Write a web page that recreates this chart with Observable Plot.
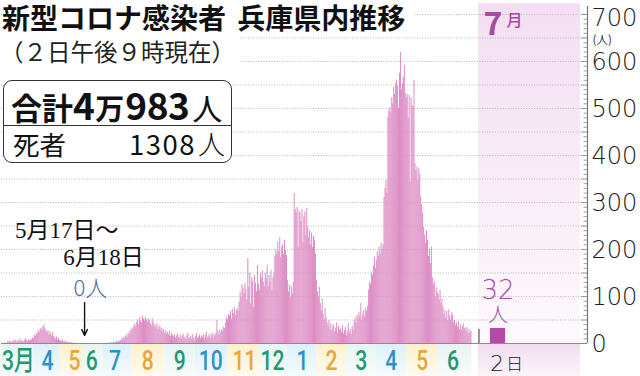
<!DOCTYPE html>
<html><head><meta charset="utf-8">
<script src="https://cdn.jsdelivr.net/npm/d3@7"></script>
<script src="https://cdn.jsdelivr.net/npm/@observablehq/plot@0.6"></script>
<style>
body{margin:0;background:#fff;}
#wrap{position:relative;width:640px;height:376px;overflow:hidden;background:#fff;font-family:"Noto Sans CJK JP",sans-serif;}
#chart svg{display:block}
.ov{position:absolute;background:#fff;white-space:nowrap;color:#111;}
#title{left:2px;top:1px;font-size:28px;font-weight:700;line-height:32px;padding-right:8px;word-spacing:5px;}
#sub{left:0px;top:36px;font-size:23.5px;line-height:30px;color:#222;padding-right:4px;}
#box{left:3px;top:80px;width:227px;height:81px;border:1.6px solid #333;border-radius:9px;overflow:hidden;}
#r1{position:absolute;left:0;top:0;width:100%;height:44px;border-bottom:1.6px solid #333;}
#r2{position:absolute;left:0;top:45px;width:100%;height:36px;}
.row{position:absolute;left:7px;display:flex;align-items:baseline;white-space:nowrap;}
.row span{line-height:1;}
#r1 .row{top:5px;font-weight:700;}
#r1 .k{font-size:31px;}
#r1 .d{font-size:37px;letter-spacing:-0.5px;}
#r1 .m{font-size:29px;margin:0 1px;}
#r1 .u{font-size:30px;font-weight:400;margin-left:3px;}
#r2 .row{top:4px;left:9px;width:212px;}
#r2 .k{font-size:26.5px;}
#r2 .n{font-size:27.5px;letter-spacing:1.5px;margin-left:auto;}
#r2 .u{font-size:27px;font-weight:300;margin-left:2px;}
</style></head>
<body>
<div id="wrap">
  <div id="chart"></div>
  <div class="ov" id="title"></div>
  <div class="ov" id="sub"></div>
  <div class="ov" id="box">
    <div id="r1"><div class="row"><span class="k"></span><span class="d" id="t1"></span><span class="m" id="t2"></span><span class="d" id="t3"></span><span class="u">人</span></div></div>
    <div id="r2"><div class="row"><span class="k"></span><span class="n"></span><span class="u">人</span></div></div>
  </div>
</div>
<script>
// ---------- text ----------
const titleText = "新型コロナ感染者 兵庫県内推移";
const subtitleText = "（２日午後９時現在）";
const totalLabel = "合計", totalParts = ["4", "万", "983"];
const deathLabel = "死者", deathValue = "1308";

// ---------- daily new cases, Mar 2020 – Jun 2021 ----------
const mar20 = [0,0,1,0,1,0,3,2,5,4,1,3,6,4,8,5,2,7,3,9,4,6,5,3,7,10,6,4,8,5,7];
const apr20 = [8,12,10,18,15,22,20,27,24,30,33,28,36,40,31,26,22,28,18,25,20,16,24,15,12,9,14,7,11,6];
const may20 = [6,4,8,3,5,2,4,1,3,2,1,2,0,1,1,1,0,0,0,0,0,0,0,0,0,0,0,0,0,0,0];
const jun20 = [0,0,0,0,0,0,0,0,0,0,0,0,0,0,0,0,0,0,1,0,0,2,1,0,3,1,2,4,2,5];
const jul20 = [4,7,6,10,13,9,15,18,12,22,20,28,25,33,30,38,42,35,45,50,40,55,48,44,58,52,47,56,50,45,53];
const aug20 = [48,42,38,52,45,36,40,33,42,30,35,38,28,32,25,30,22,27,20,24,18,26,15,21,17,14,19,12,16,20,13];
const sep20 = [12,18,9,15,20,11,14,8,17,22,10,13,16,9,19,12,7,15,21,11,14,18,10,16,13,20,9,17,24,12];
const oct20 = [14,20,11,17,23,13,19,16,22,49,25,18,28,22,30,26,35,32,45,55,50,62,58,68,52,72,64,77,60,70,75];
const nov20 = [70,88,110,98,125,118,106,128,115,92,181,120,150,85,140,132,77,145,128,110,166,125,113,148,140,155,130,120,150,138];
const dec20 = [166,120,145,130,155,113,140,150,185,200,190,215,195,225,183,205,210,190,220,198,187,134,110,125,98,120,105,130,319,285,277];
const jan21 = [289,204,282,277,260,285,215,270,280,230,288,247,225,240,210,235,204,228,220,190,134,110,98,120,85,70,95,62,49,75,55];
const feb21 = [45,38,49,30,42,27,35,40,25,33,44,21,36,29,31,24,38,20,28,35,17,26,43,22,30,19,37,28];
const mar21 = [48,55,43,60,52,66,58,85,50,62,70,57,75,68,80,113,130,125,150,145,165,183,160,177,195,185,205,190,213,200,210];
const apr21 = [311,330,347,320,481,495,502,490,523,510,545,530,553,560,548,500,575,619,540,553,566,591,532,523,530,480,528,345,523,505];
const may21 = [505,560,383,368,375,347,372,360,311,295,277,247,230,213,240,219,185,200,170,205,140,125,132,98,118,110,105,92,113,85,95];
const jun21 = [77,62,70,55,68,49,72,58,50,65,60,45,49,38,44,35,47,30,40,28,36,42,31,33,25,34,21,30,23,27];
const seriesStart = "2020-03-01";

// July 2021 inset
const julyDays = [1, 2];
const julyValues = [30, 32];

// month tick labels and the day each label sits on
const monthLabels = ["3月","4","5","6","7","8","9","10","11","12","1","2","3","4","5","6"];
const monthLabelDates = ["2020-03-18","2020-04-17","2020-05-15","2020-06-02","2020-06-26","2020-07-30","2020-09-01","2020-10-03","2020-11-07","2020-12-06","2021-01-06","2021-02-05","2021-03-08","2021-04-08","2021-05-10","2021-06-11"];

// y axis
const yTickLabels = [0,100,200,300,400,500,600,700];
const gridValues = d3.range(50, 701, 50);
const minorTicks = d3.range(0, 701, 10);

// annotation
const zeroFrom = "5月17日～", zeroTo = "6月18日", zeroText = "0人";
const zeroArrowDate = "2020-05-26";

// ---------- layout ----------
const W = 640, H = 376, mL = 1, mR = 53, mT = 14, mB = 33;
const pxPerDay = 0.966;
const XMAX = (W - mL - mR) / pxPerDay;
const px = p => p / pxPerDay;
const insetStart = 493.8, insetEnd = 599.4;
const julyOrigin = 475.6, julySlot = 19.2;

const barColor = "#dd8ec5";
const cycleColors = ["#1f9a72", "#2b91cb", "#e9a53a"];
const purple = "#a44c9e";

const t0 = new Date(seriesStart + "T00:00:00Z");
const dayOf = s => Math.round((new Date(s + "T00:00:00Z") - t0) / 864e5);

document.getElementById("title").textContent = titleText;
document.getElementById("sub").textContent = subtitleText;
document.querySelector("#r1 .k").textContent = totalLabel;
document.getElementById("t1").textContent = totalParts[0];
document.getElementById("t2").textContent = totalParts[1];
document.getElementById("t3").textContent = totalParts[2];
document.querySelector("#r2 .k").textContent = deathLabel;
document.querySelector("#r2 .n").textContent = deathValue;

const daily = [mar20,apr20,may20,jun20,jul20,aug20,sep20,oct20,nov20,dec20,jan21,feb21,mar21,apr21,may21,jun21]
  .flat().map((v, i) => ({d: i, v}));
const lastDay = daily.length;

const ticks = monthLabels.map((label, i) => ({label, u: dayOf(monthLabelDates[i]) + 0.5, k: i % 3}));
const bands = ticks.map((t, i) => ({
  k: t.k,
  x1: i === 0 ? 0 : (ticks[i-1].u + t.u) / 2,
  x2: i === ticks.length - 1 ? lastDay : (t.u + ticks[i+1].u) / 2
}));
const july = julyDays.map((day, i) => ({day, v: julyValues[i], c: julyOrigin + day * julySlot}));
const julyPast = july.slice(0, -1), julyToday = july.slice(-1);
const inset = [{x1: insetStart, x2: insetEnd}];
const arrowU = dayOf(zeroArrowDate);

const numFont = "'DejaVu Sans', sans-serif";
const cjk = "'Noto Sans CJK JP', sans-serif";

const plot = Plot.plot({
  width: W, height: H, marginTop: mT, marginBottom: mB, marginLeft: mL, marginRight: mR,
  x: {domain: [0, XMAX], axis: null},
  y: {domain: [0, 700], axis: null},
  style: {background: "transparent", overflow: "visible", fontFamily: cjk},
  marks: [
    ...[0,1,2].map(k => Plot.rect(bands.filter(b => b.k === k), {x1: "x1", x2: "x2", y1: 0, y2: -71, fill: `url(#gBand${k})`})),
    Plot.rect(inset, {x1: "x1", x2: "x2", y1: 0, y2: -71, fill: "url(#gJulyLow)"}),
    Plot.rect(inset, {x1: "x1", x2: "x2", y1: 0, y2: 723, fill: "url(#gJuly)"}),
    Plot.ruleY(gridValues, {x1: 0, x2: XMAX, stroke: "#b9b9b9", strokeWidth: 1, strokeDasharray: "1,1.6"}),
    Plot.rectY(daily.filter(d => d.v > 0), {x1: "d", x2: d => d.d + 1.04, y: "v", fill: barColor}),
    Plot.rectY(julyPast, {x1: d => d.c - px(0.8), x2: d => d.c + px(0.8), y: "v", fill: "#8c6f8a"}),
    Plot.rectY(julyToday, {x1: d => d.c - px(7.6), x2: d => d.c + px(7.6), y: "v", fill: "#b449a7"}),
    Plot.ruleY([0], {x1: 0, x2: XMAX, stroke: "#8c8c8c", strokeWidth: 1}),
    // right axis
    Plot.ruleX([XMAX], {y1: 0, y2: 717, stroke: "#777", strokeWidth: 1.2}),
    Plot.ruleY(minorTicks.filter(v => v % 50 !== 0), {x1: XMAX - px(3.5), x2: XMAX, stroke: "#888", strokeWidth: 0.8}),
    Plot.ruleY(minorTicks.filter(v => v % 50 === 0), {x1: XMAX - px(6), x2: XMAX, stroke: "#888", strokeWidth: 0.8}),
    Plot.text(yTickLabels.filter(v => v < 700), {x: XMAX, y: d => d, text: d => String(d), textAnchor: "start", dx: 4, dy: 1, fontSize: 24, fontWeight: 200, fontFamily: numFont, fill: "#222"}),
    Plot.text(yTickLabels.filter(v => v === 700), {x: XMAX, y: d => d, text: d => String(d), textAnchor: "start", dx: 4, dy: 4, fontSize: 24, fontWeight: 200, fontFamily: numFont, fill: "#222"}),
    Plot.text(["(人)"], {x: XMAX, y: 700, text: d => d, textAnchor: "start", dx: 5, dy: 26, fontSize: 11.5, fontFamily: cjk, fill: "#333"}),
    // month labels
    ...[0,1,2].map(k => Plot.text(ticks.filter(t => t.k === k), {x: "u", y: 0, dy: 18, text: "label", fill: cycleColors[k], fontSize: 27, fontWeight: 500, fontFamily: "Roboto, 'Noto Sans CJK JP', sans-serif", ariaDescription: "month-label"})),
    // July inset labels
    Plot.text(inset, {x: "x1", y: 700, text: () => "7", textAnchor: "start", dx: 5, dy: 10, fontSize: 32, fontWeight: 700, fill: purple, fontFamily: cjk}),
    Plot.text(inset, {x: "x1", y: 700, text: () => "月", textAnchor: "start", dx: 28, dy: 6, fontSize: 16, fontWeight: 500, fill: purple, fontFamily: cjk}),
    Plot.text(julyToday, {x: "c", y: 0, text: d => String(d.day), textAnchor: "end", dx: 6, dy: 20, fontSize: 22, fontWeight: 200, fill: "#222", fontFamily: numFont}),
    Plot.text(julyToday, {x: "c", y: 0, text: () => "日", textAnchor: "start", dx: 8, dy: 21, fontSize: 17, fontWeight: 300, fill: "#222", fontFamily: cjk}),
    Plot.text(julyToday, {x: "c", y: "v", text: d => String(d.v), dy: -38, fontSize: 26, fontWeight: 200, fill: purple, fontFamily: numFont}),
    Plot.text(julyToday, {x: "c", y: "v", text: () => "人", dy: -13, fontSize: 20, fontWeight: 300, fill: purple, fontFamily: cjk}),
    // zero-case annotation
    Plot.text([zeroFrom], {x: dayOf("2020-03-15"), y: 240, text: d => d, textAnchor: "start", fontSize: 23, fill: "#111", fontFamily: "'Liberation Serif', 'Noto Sans CJK JP', serif"}),
    Plot.text([zeroTo], {x: dayOf("2020-05-04"), y: 183, text: d => d, textAnchor: "start", fontSize: 23, fill: "#111", fontFamily: "'Liberation Serif', 'Noto Sans CJK JP', serif"}),
    Plot.text([zeroText], {x: arrowU + 6, y: 117, text: d => d, fontSize: 22, fontWeight: 300, fill: "#506ca3", fontFamily: cjk}),
    Plot.arrow([{u: arrowU}], {x1: "u", x2: "u", y1: 87, y2: 17, stroke: "#111", strokeWidth: 1.4, headLength: 7, headAngle: 50})
  ]
});

const svg = d3.select(plot);
const defs = svg.insert("defs", ":first-child");
function grad(id, c1, c2) {
  const g = defs.append("linearGradient").attr("id", id).attr("x1", 0).attr("y1", 0).attr("x2", 0).attr("y2", 1);
  g.append("stop").attr("offset", 0).attr("stop-color", c1);
  g.append("stop").attr("offset", 1).attr("stop-color", c2);
}
grad("gBand0", "#e7f4f1", "#f8fcfb");
grad("gBand1", "#dcf0f9", "#f5fbfd");
grad("gBand2", "#fcf0cc", "#fefaef");
grad("gJulyLow", "#f1dcef", "#fbf4fa");
grad("gJuly", "#f3def1", "#fdf9fc");
document.getElementById("chart").appendChild(plot);

// condensed month labels
function monthTexts() {
  let sel = svg.selectAll('g[aria-description="month-label"] text');
  if (sel.empty()) {
    const set = new Set(monthLabels);
    sel = svg.selectAll("text").filter(function() { return set.has(this.textContent) && cycleColors.includes(this.getAttribute("fill") || (this.parentNode.getAttribute && this.parentNode.getAttribute("fill"))); });
  }
  return sel;
}
function condense() {
  monthTexts().each(function() {
    this.removeAttribute("textLength");
    const n = this.getComputedTextLength();
    if (n > 0) {
      this.setAttribute("textLength", (n * 0.78).toFixed(1));
      this.setAttribute("lengthAdjust", "spacingAndGlyphs");
    }
  });
}
condense();
if (document.fonts && document.fonts.ready) document.fonts.ready.then(condense);
</script>
</body></html>
